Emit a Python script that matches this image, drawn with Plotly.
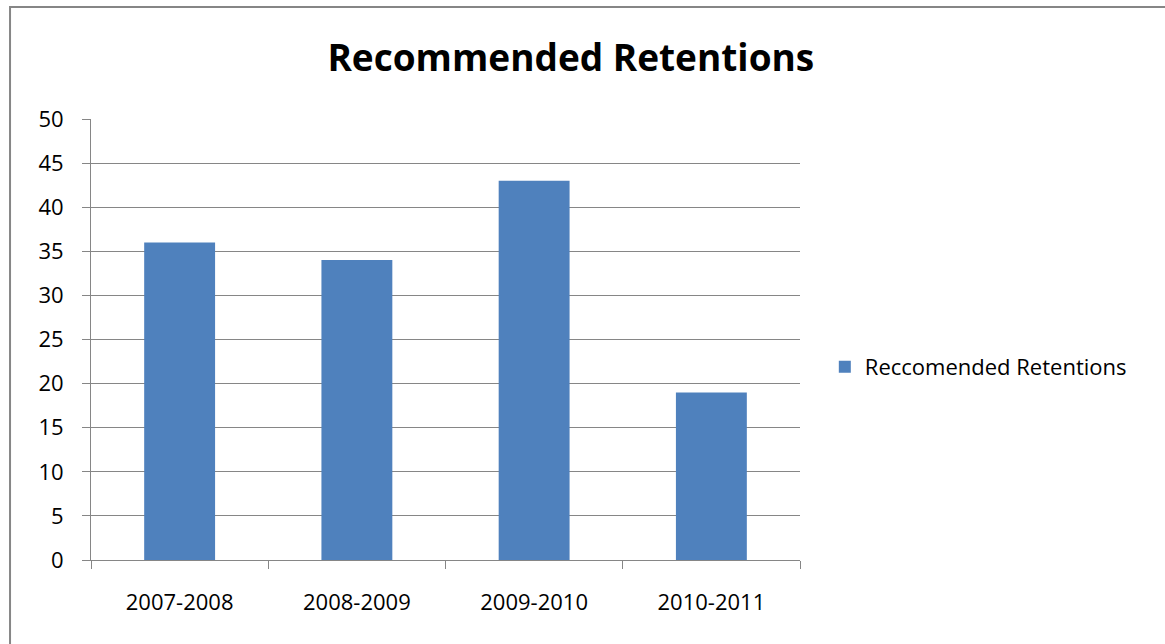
import plotly.graph_objects as go

# chart data
periods = ['2007-2008', '2008-2009', '2009-2010', '2010-2011']
retentions = [36, 34, 43, 19]
series_name = 'Reccomended Retentions'
chart_title = 'Recommended Retentions'
y_ticks = [0, 5, 10, 15, 20, 25, 30, 35, 40, 45, 50]

bar_color = '#4F81BD'
line_color = '#868686'
font_family = 'Open Sans, Liberation Sans, sans-serif'

fig = go.Figure()

fig.add_trace(
    go.Bar(
        x = periods,
        y = retentions,
        name = series_name,
        marker = {'color': bar_color, 'line': {'width': 0}},
        showlegend = True,
    )
)

fig.update_layout(
    width = 1165,
    height = 644,
    margin = dict(l = 91, r = 365, t = 119, b = 84),
    paper_bgcolor = 'white',
    plot_bgcolor = 'white',
    font = dict(family = font_family, size = 22, color = 'black'),
    bargap = 0.6,
    title = dict(
        text = '<b>' + chart_title + '</b>',
        font = dict(family = font_family, size = 37, color = 'black'),
        xref = 'container', x = 0.49, xanchor = 'center',
        yref = 'container', y = 0.91, yanchor = 'middle',
    ),
    legend = dict(
        x = 1.035, y = 0.4376, xanchor = 'left', yanchor = 'middle',
        font = dict(size = 22),
        itemwidth = 30,
        bgcolor = 'rgba(0,0,0,0)',
    ),
    shapes = [
        # outer chart border (only top and left are visible in the window)
        dict(type = 'rect', xref = 'paper', yref = 'paper',
             x0 = -0.1142, x1 = 2, y0 = -1, y1 = 1.254,
             line = dict(color = line_color, width = 2), layer = 'below'),
    ],
)

fig.update_xaxes(
    type = 'category',
    showline = True, linecolor = line_color, linewidth = 1,
    ticks = 'outside', tickson = 'boundaries', ticklen = 8,
    tickcolor = line_color, tickwidth = 1,
    showgrid = False,
    ticklabelstandoff = 23,
)

fig.update_yaxes(
    range = [0, 50],
    tickvals = y_ticks,
    showline = True, linecolor = line_color, linewidth = 1,
    ticks = 'outside', ticklen = 8, tickcolor = line_color, tickwidth = 1,
    showgrid = True, gridcolor = line_color, gridwidth = 1,
    zeroline = False,
    ticklabelstandoff = 14,
)

# drop the default page margin so the figure sits at the window corner
fig.write_html(
    'out.html',
    config = {'displayModeBar': False},
    post_script = "document.body.style.margin = '0';",
)
